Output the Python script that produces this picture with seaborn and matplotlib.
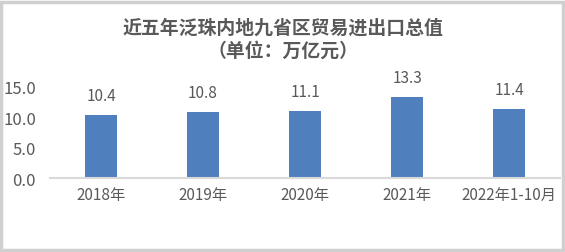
import matplotlib
matplotlib.use("Agg")
import matplotlib.pyplot as plt
import seaborn as sns
import pandas as pd
from matplotlib.patches import Rectangle

categories = ["2018年", "2019年", "2020年", "2021年", "2022年1-10月"]
values = [10.4, 10.8, 11.1, 13.3, 11.4]
yticks = [0, 5, 10, 15]
title_line1 = "近五年泛珠内地九省区贸易进出口总值"
title_line2 = "（单位：万亿元）"

sns.set_theme(style="white")
plt.rcParams['font.family'] = ['Noto Sans CJK SC', 'DejaVu Sans']

text_color = "#595959"
bar_color = "#4F7FBD"

df = pd.DataFrame({"cat": categories, "val": values})

fig = plt.figure(figsize=(5.65, 2.53), dpi=100)
ax = fig.add_axes([50/565, 1-179/253, 510/565, 91/253])
sns.barplot(data=df, x="cat", y="val", color=bar_color, width=0.31, ax=ax,
            saturation=1, edgecolor="none")
ax.set_ylim(0, 15)
ax.set_xlim(-0.5, len(categories)-0.5)
ax.set_yticks(yticks)
ax.set_yticklabels([f"{t:.1f}" for t in yticks])
ax.set_xlabel("")
ax.set_ylabel("")
for s in ["top", "right", "left"]:
    ax.spines[s].set_visible(False)
ax.spines["bottom"].set_color("#D9D9D9")
ax.spines["bottom"].set_linewidth(1.5)
ax.tick_params(axis="x", length=0, colors=text_color, labelsize=11, pad=6)
ax.tick_params(axis="y", length=0, colors=text_color, labelsize=12, pad=10)
for i, v in enumerate(values):
    ax.annotate(f"{v:.1f}", (i, v), xytext=(0, 8), textcoords="offset points",
                ha="center", va="bottom", fontsize=11, color=text_color)

fig.text(0.5, 1-28/253, title_line1, ha="center", va="center", fontsize=13.6,
         fontweight="bold", color=text_color)
fig.text(0.5, 1-51/253, title_line2, ha="center", va="center", fontsize=13.6,
         fontweight="bold", color=text_color)

fig.patches.append(Rectangle((0.002, 0.006), 0.994, 0.984, transform=fig.transFigure,
                             fill=False, edgecolor="#D0D0D0", linewidth=2.5))

fig.savefig("out.png", dpi=100)
